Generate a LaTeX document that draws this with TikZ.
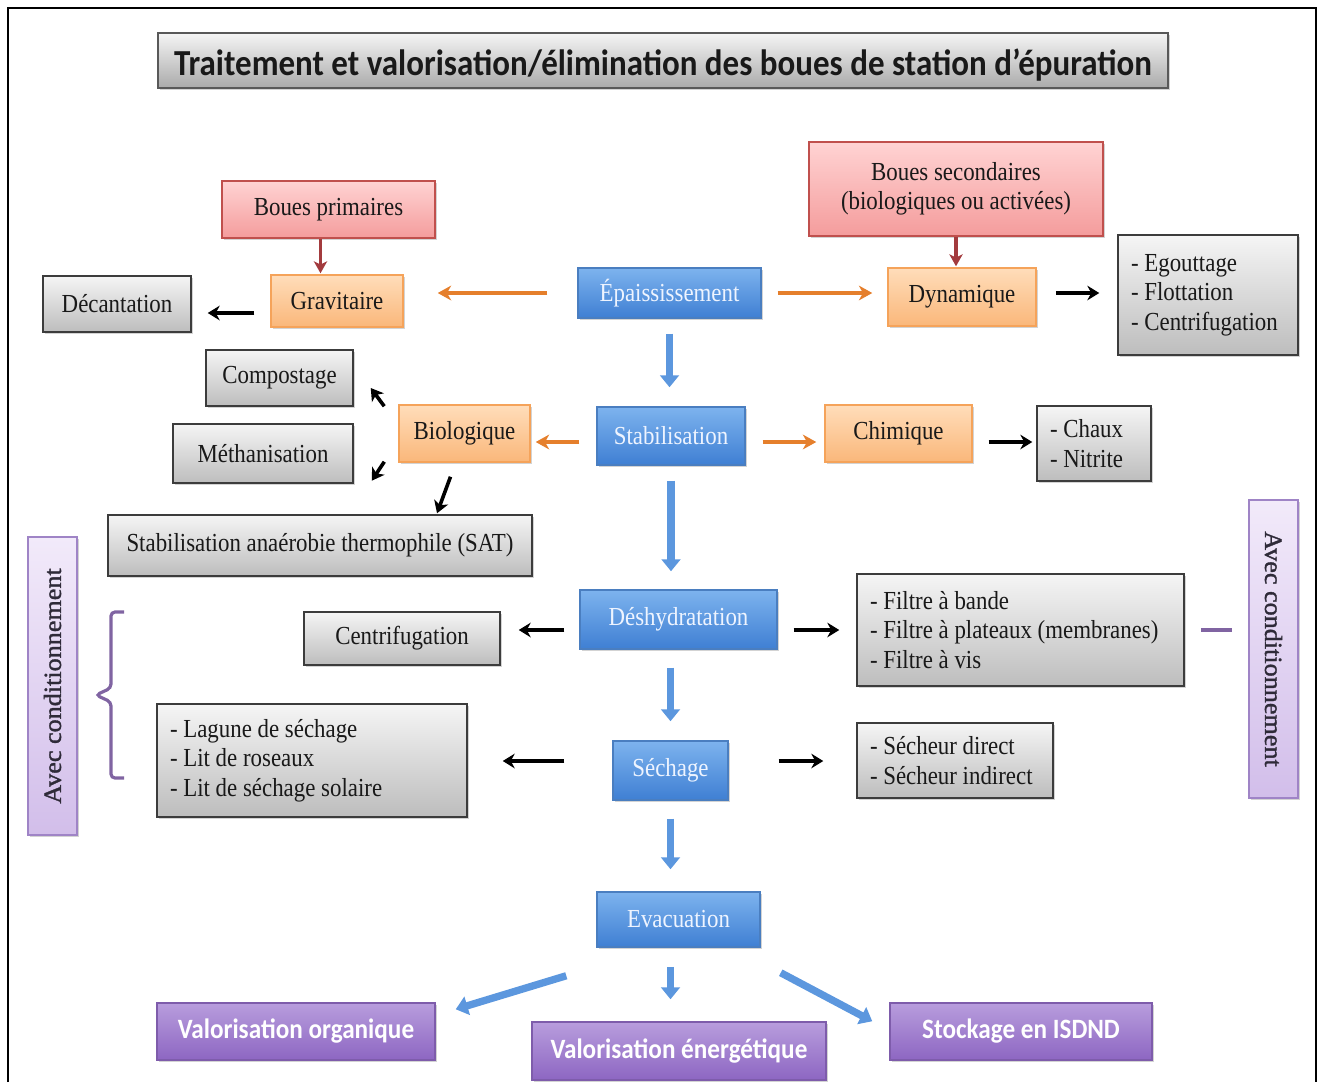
\documentclass[tikz,border=0pt]{standalone}
\usepackage{fontspec}
\setmainfont{Liberation Serif}[FakeStretch=0.88]
\newfontfamily\carl{Carlito}[FakeStretch=0.9]
\newfontfamily\sideser{Liberation Serif}[FakeStretch=1.06,FakeBold=1.3]
\usetikzlibrary{arrows.meta,shadows,calc}
\definecolor{blueT}{HTML}{7DB3EE}
\definecolor{blueB}{HTML}{3F7FD3}
\definecolor{blueD}{HTML}{4A7EC0}
\definecolor{blueTxt}{HTML}{EEF4FF}
\definecolor{orT}{HTML}{FFDDBA}
\definecolor{orB}{HTML}{FAB77A}
\definecolor{orD}{HTML}{F5A35A}
\definecolor{pkT}{HTML}{FFD3D3}
\definecolor{pkB}{HTML}{F49C9C}
\definecolor{pkD}{HTML}{C0504D}
\definecolor{grT}{HTML}{F5F5F5}
\definecolor{grB}{HTML}{BDBDBD}
\definecolor{grD}{HTML}{3C3C3C}
\definecolor{puT}{HTML}{B89DDD}
\definecolor{puB}{HTML}{8D66C2}
\definecolor{puD}{HTML}{7E5CAB}
\definecolor{lvT}{HTML}{F2EAFA}
\definecolor{lvB}{HTML}{D2BEEA}
\definecolor{lvD}{HTML}{9F84C6}
\definecolor{arOr}{HTML}{E57F2C}
\definecolor{arRed}{HTML}{A33B3E}
\definecolor{arBl}{HTML}{5C97DE}
\definecolor{brc}{HTML}{8064A2}
\definecolor{sideTxt}{HTML}{2E2A38}
\begin{document}
\begin{tikzpicture}[x=0.75pt,y=-0.75pt,
  sz/.style 2 args={minimum width=#1*0.75pt, minimum height=#2*0.75pt},
  sh/.style 2 args={shorten <=#1*0.75pt, shorten >=#2*0.75pt},
  box/.style={draw, line width=1.1pt, inner sep=0pt, align=center,
    font=\fontsize{19.5}{22}\selectfont,
    drop shadow={shadow xshift=1.5pt,shadow yshift=-1.5pt,opacity=0.35}},
  graybox/.style={box, draw=grD, top color=grT, bottom color=grB, text=black!90},
  listbox/.style={graybox, align=flush left, text width=(#1-26)*0.75pt},
  bluebox/.style={box, draw=blueD, top color=blueT, bottom color=blueB, text=blueTxt},
  orbox/.style={box, draw=orD, top color=orT, bottom color=orB, text=black!90},
  pkbox/.style={box, draw=pkD, top color=pkT, bottom color=pkB, text=black!90},
  pubox/.style={box, draw=puD, top color=puT, bottom color=puB, text=white,
    font=\carl\bfseries\fontsize{21}{24}\selectfont},
  lvbox/.style={box, draw=lvD, top color=lvT, bottom color=lvB, text=sideTxt,
    font=\sideser\fontsize{18.5}{20}\selectfont},
  titlebox/.style={box, draw=black!65, top color=grT, bottom color=grB!90!black, text=black!90,
    font=\carl\bfseries\fontsize{27.5}{30}\selectfont},
  blk/.style={line width=2.4pt, black, -{Stealth[length=9pt,width=11pt,inset=3pt]}},
  sblk/.style={line width=2.7pt, black, -{Stealth[length=9pt,width=11pt,inset=2.5pt]}},
  org/.style={line width=2.6pt, arOr, -{Stealth[length=10pt,width=11pt,inset=3pt]}},
  dred/.style={line width=2.4pt, arRed, -{Stealth[length=9pt,width=10pt,inset=2.5pt]}},
  blu/.style={line width=5.5pt, arBl, -{Triangle[length=9pt,width=14pt]}},
  brcline/.style={line width=2.4pt, brc}
]
\useasboundingbox (0,0) rectangle (1323,1082);
\draw[line width=1.6pt] (8,1082) -- (8,8) -- (1316,8) -- (1316,1082);

\node[titlebox, sz={1010}{55}] (title) at (663,60.5) {\raisebox{-11pt}[0pt][0pt]{Traitement et valorisation/élimination des boues de station d’épuration}};

\node[pkbox, sz={213}{57}] (bp) at (328.5,209.5) {Boues primaires};
\node[pkbox, sz={294}{94}] (bs) at (956,189) {Boues secondaires\\(biologiques ou activées)};

\node[orbox, sz={132}{52}] (grav) at (337,301) {Gravitaire};
\node[orbox, sz={148}{58}] (dyn) at (962,297) {Dynamique};
\node[orbox, sz={131}{57}] (bio) at (464.5,433.5) {Biologique};
\node[orbox, sz={147}{57}] (chim) at (898.5,433.5) {Chimique};

\node[bluebox, sz={183}{50}] (epa) at (669.5,293) {Épaississement};
\node[bluebox, sz={148}{58}] (stab) at (671,436) {Stabilisation};
\node[bluebox, sz={197}{59}] (desh) at (678.5,619.5) {Déshydratation};
\node[bluebox, sz={115}{59}] (sech) at (670.5,770.5) {Séchage};
\node[bluebox, sz={163}{55}] (evac) at (678.5,919.5) {Evacuation};

\node[graybox, sz={148}{56}] (dec) at (117,304) {Décantation};
\node[listbox=180, sz={180}{120}] (ego) at (1208,295) {- Egouttage\\- Flottation\\- Centrifugation};
\node[graybox, sz={147}{56}] (comp) at (279.5,378) {Compostage};
\node[graybox, sz={180}{59}] (meth) at (263,453.5) {Méthanisation};
\node[graybox, sz={424}{61}] (sat) at (320,545.5) {Stabilisation anaérobie thermophile (SAT)};
\node[listbox=114, sz={114}{75}] (chaux) at (1094,443.5) {- Chaux\\- Nitrite};
\node[graybox, sz={196}{53}] (centri) at (402,638.5) {Centrifugation};
\node[listbox=327, sz={327}{112}] (filt) at (1020.5,630) {- Filtre à bande\\- Filtre à plateaux (membranes)\\- Filtre à vis};
\node[listbox=310, sz={310}{113}] (lag) at (312,760.5) {- Lagune de séchage\\- Lit de roseaux\\- Lit de séchage solaire};
\node[listbox=196, sz={196}{75}] (sechr) at (955,760.5) {- Sécheur direct\\- Sécheur indirect};

\node[lvbox, rotate=-90, sz={298}{49}] (avecR) at (1273.5,649) {Avec conditionnement};
\node[lvbox, rotate=90, sz={298}{49}] (avecL) at (52.5,686) {Avec conditionnement};

\node[pubox, sz={278}{57}] (vo) at (296,1031.5) {Valorisation organique};
\node[pubox, sz={294}{58}] (ve) at (679,1051) {Valorisation énergétique};
\node[pubox, sz={262}{57}] (st) at (1021,1031.5) {Stockage en ISDND};

% connectors
\draw[org, sh={30}{34}] (epa.west) -- (epa.west -| grav.east);
\draw[org, sh={16}{15}] (epa.east) -- (epa.east -| dyn.west);
\draw[dred, sh={0}{1}] ([shift={(-8,0)}]bp.south) -- ([shift={(-8,0)}]bp.south |- grav.north);
\draw[dred, sh={0}{1}] (bs.south) -- (bs.south |- dyn.north);
\draw[blk, sh={16}{16}] ([shift={(0,12)}]grav.west) -- ([shift={(0,12)}]grav.west -| dec.east);
\draw[blk, sh={19}{18}] ([shift={(0,-4)}]dyn.east) -- ([shift={(0,-4)}]dyn.east -| ego.west);
\draw[blu, sh={15}{19}] (epa.south) -- (epa.south |- stab.north);
\draw[org, sh={17}{5}] ([shift={(0,6)}]stab.west) -- ([shift={(0,6)}]stab.west -| bio.east);
\draw[org, sh={17}{8}] ([shift={(0,6)}]stab.east) -- ([shift={(0,6)}]stab.east -| chim.west);
\draw[blk, sh={16}{4}] ([shift={(0,8.5)}]chim.east) -- ([shift={(0,8.5)}]chim.east -| chaux.west);
\draw[sblk] ([shift={(-14,2)}]bio.north west) -- ([shift={(17,10)}]comp.east);
\draw[sblk] ([shift={(-14,-1)}]bio.south west) -- ([shift={(18,-3)}]meth.south east);
\draw[sblk] ([shift={(-14,14)}]bio.south) -- ([shift={(117,-1)}]sat.north);
\draw[blu, sh={15}{18}] (stab.south) -- (stab.south |- desh.north);
\draw[blk, sh={15}{18}] ([shift={(0,10.5)}]desh.west) -- ([shift={(0,10.5)}]desh.west -| centri.east);
\draw[blk, sh={16}{17}] ([shift={(0,10.5)}]desh.east) -- ([shift={(0,10.5)}]desh.east -| filt.west);
\draw[brcline, sh={16}{41.5}] (filt.east) -- (filt.east -| avecR.center);
\draw[blu, sh={18}{19}] (sech.north |- desh.south) -- (sech.north);
\draw[blk, sh={48}{35}] ([shift={(0,-9.5)}]sech.west) -- ([shift={(0,-9.5)}]sech.west -| lag.east);
\draw[blk, sh={50}{33}] ([shift={(0,-9.5)}]sech.east) -- ([shift={(0,-9.5)}]sech.east -| sechr.west);
\draw[blu, sh={18}{22}] (sech.south) -- (sech.south |- evac.north);
\draw[blu, sh={19}{22}] ([shift={(-8,0)}]evac.south) -- ([shift={(-8,0)}]evac.south |- ve.north);
\draw[blu] ([shift={(-30,28)}]evac.south west) -- ([shift={(20,7)}]vo.north east);
\draw[blu] ([shift={(20,25)}]evac.south east) -- ([shift={(-17,19)}]st.north west);

% brace
\draw[brcline, rounded corners=3pt] (124,612) -- (111,612) -- (111,688) -- (96,695) -- (111,702) -- (111,778) -- (124,778);
\end{tikzpicture}
\end{document}
